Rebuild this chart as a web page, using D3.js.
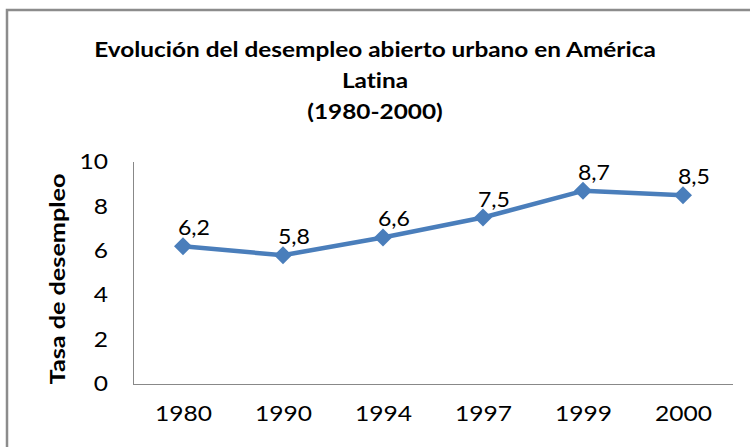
<!DOCTYPE html>
<html>
<head>
<meta charset="utf-8">
<script src="https://cdn.jsdelivr.net/npm/d3@7"></script>
<style>
  body { margin: 0; background: #fff; }
  text {
    font-family: Lato, "Open Sans", sans-serif;
    fill: #000;
    font-variant-ligatures: none;
    font-feature-settings: "liga" 0, "clig" 0, "dlig" 0, "calt" 0;
  }
</style>
</head>
<body>
<div id="chart"></div>
<script>
// Data
const YEARS = ["1980", "1990", "1994", "1997", "1999", "2000"];
const RATES = [6.2, 5.8, 6.6, 7.5, 8.7, 8.5];
const Y_TICKS = [0, 2, 4, 6, 8, 10];
const TITLE_LINES = [
  "Evolución del desempleo abierto urbano en América",
  "Latina",
  "(1980-2000)",
];
const Y_TITLE = "Tasa de desempleo";

const COLORS = {
  line: "#4A7EBB",
  axis: "#888888",
  frame: "#8C8C8C",
};

const WIDTH = 750,
  HEIGHT = 447;
const PLOT = { left: 133, right: 733, top: 162, bottom: 384 };

// the original font is a bit wider than Lato, so stretch text horizontally
function widen(sel, factor) {
  sel.each(function () {
    const len = this.getComputedTextLength();
    d3.select(this)
      .attr("textLength", len * factor)
      .attr("lengthAdjust", "spacingAndGlyphs");
  });
}

const svg = d3
  .select("#chart")
  .append("svg")
  .attr("width", WIDTH)
  .attr("height", HEIGHT);

// chart frame (runs off the right and bottom edge)
svg
  .append("rect")
  .attr("x", 7)
  .attr("y", 10)
  .attr("width", 800)
  .attr("height", 500)
  .attr("fill", "none")
  .attr("stroke", COLORS.frame)
  .attr("stroke-width", 2.5);

// title
svg
  .selectAll(".title")
  .data(TITLE_LINES)
  .enter()
  .append("text")
  .classed("title", true)
  .attr("x", 375)
  .attr("y", (d, i) => 57 + i * 31)
  .attr("text-anchor", "middle")
  .attr("font-size", 21)
  .attr("font-weight", "bold")
  .text((d) => d)
  .call(widen, 1.16);

const x = d3
  .scalePoint()
  .domain(YEARS)
  .range([PLOT.left, PLOT.right])
  .padding(0.5);

const y = d3.scaleLinear().domain([0, 10]).range([PLOT.bottom, PLOT.top]);

// axes
const xAxis = svg
  .append("g")
  .attr("transform", `translate(0,${PLOT.bottom})`)
  .call(d3.axisBottom(x).tickSize(0).tickPadding(22));
xAxis.select(".domain").attr("stroke", COLORS.axis).attr("d", `M${PLOT.left},0.5H${PLOT.right}`);
xAxis
  .selectAll("text")
  .attr("font-size", 21)
  .attr("font-family", null)
  .attr("fill", "#000")
  .call(widen, 1.17);

const yAxis = svg
  .append("g")
  .attr("transform", `translate(${PLOT.left},0)`)
  .call(d3.axisLeft(y).tickValues(Y_TICKS).tickSize(0).tickPadding(25));
yAxis.select(".domain").attr("stroke", COLORS.axis).attr("d", `M0.5,${PLOT.top}V${PLOT.bottom}`);
yAxis
  .selectAll("text")
  .attr("font-size", 21)
  .attr("font-family", null)
  .attr("fill", "#000")
  .call(widen, 1.17);

// y axis title
svg
  .append("text")
  .attr("transform", `translate(65,${(PLOT.top + PLOT.bottom) / 2 + 6}) rotate(-90)`)
  .attr("text-anchor", "middle")
  .attr("font-size", 21)
  .attr("font-weight", "bold")
  .text(Y_TITLE)
  .call(widen, 1.2);

// line
const points = YEARS.map((yr, i) => ({ year: yr, value: RATES[i] }));
const lineGen = d3
  .line()
  .x((d) => x(d.year))
  .y((d) => y(d.value));

svg
  .append("path")
  .datum(points)
  .attr("d", lineGen)
  .attr("fill", "none")
  .attr("stroke", COLORS.line)
  .attr("stroke-width", 4.5)
  .style("stroke-linejoin", "round");

// diamond markers
svg
  .selectAll(".marker")
  .data(points)
  .enter()
  .append("path")
  .classed("marker", true)
  .attr("transform", (d) => `translate(${x(d.year)},${y(d.value)})`)
  .attr("d", "M0,-9L9,0L0,9L-9,0Z")
  .attr("fill", COLORS.line);

// data labels
svg
  .selectAll(".label")
  .data(points)
  .enter()
  .append("text")
  .classed("label", true)
  .attr("x", (d) => x(d.year) + 11)
  .attr("y", (d) => y(d.value) - 11)
  .attr("text-anchor", "middle")
  .attr("font-size", 21)
  .text((d) => String(d.value).replace(".", ","))
  .call(widen, 1.1);
</script>
</body>
</html>
